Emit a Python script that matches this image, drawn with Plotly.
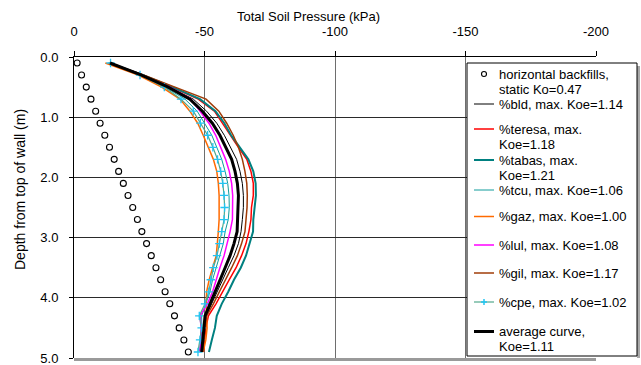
import plotly.graph_objects as go

# Depth below top of wall (m)
depth = [0.1, 0.3, 0.5, 0.7, 0.9, 1.1, 1.3, 1.5, 1.7, 1.9, 2.1, 2.3, 2.5,
         2.7, 2.9, 3.1, 3.3, 3.5, 3.7, 3.9, 4.1, 4.3, 4.5, 4.7, 4.9]

# Total soil pressure profiles (kPa, negative = toward the wall)
static_ko = [-1.2, -2.9, -4.7, -6.5, -8.3, -10.0, -11.8, -13.6, -15.4, -17.1, -18.9, -20.7, -22.5,
             -24.3, -26.0, -27.8, -29.6, -31.4, -33.2, -34.9, -36.7, -38.5, -40.3, -42.1, -43.8]
bld = [-13.6, -26.2, -36.5, -45.7, -50.8, -54.7, -57.6, -59.8, -62.3, -63.6, -64.5, -64.9, -64.9,
       -64.5, -64.0, -63.0, -61.3, -59.1, -57.0, -54.9, -52.8, -50.6, -50.0, -49.6, -49.0]
teresa = [-13.5, -26.3, -37.4, -47.6, -53.8, -56.8, -59.8, -63.0, -66.2, -67.8, -68.7, -68.7, -68.0,
          -67.8, -67.0, -65.9, -64.2, -62.1, -59.5, -57.0, -54.4, -51.5, -50.5, -50.0, -49.6]
tabas = [-13.5, -26.5, -37.8, -48.3, -54.2, -57.6, -60.2, -63.6, -66.8, -68.7, -69.6, -69.7, -69.3,
         -68.7, -68.6, -67.4, -65.9, -63.9, -61.3, -59.1, -56.6, -54.7, -54.0, -52.8, -51.7]
tcu = [-13.5, -25.8, -34.9, -42.5, -47.2, -49.9, -52.8, -54.7, -56.6, -57.9, -58.9, -59.4, -59.5,
       -59.1, -57.9, -57.2, -55.9, -54.4, -53.1, -52.1, -50.6, -48.9, -49.0, -48.7, -48.0]
gaz = [-12.0, -24.6, -33.6, -40.6, -44.4, -47.4, -49.5, -51.5, -53.4, -54.7, -55.3, -55.6, -55.7,
       -55.6, -55.3, -55.0, -54.5, -53.1, -51.8, -50.8, -50.6, -50.8, -51.0, -50.5, -49.5]
lul = [-13.8, -26.0, -36.8, -44.8, -48.3, -51.7, -54.3, -56.3, -58.1, -59.5, -60.4, -60.8, -60.8,
       -60.7, -59.8, -58.5, -57.5, -55.9, -54.4, -53.1, -51.1, -48.3, -48.7, -48.5, -48.3]
gil = [-13.2, -26.6, -38.7, -50.6, -55.5, -58.5, -61.0, -63.0, -64.5, -65.5, -66.2, -66.4, -66.3,
       -65.8, -65.5, -64.2, -62.6, -60.4, -57.9, -55.7, -53.4, -50.8, -50.2, -49.8, -49.3]
cpe = [-14.0, -25.3, -34.6, -41.0, -45.7, -48.4, -51.2, -53.2, -55.0, -56.2, -57.0, -57.5, -57.7,
       -57.5, -56.6, -55.7, -54.8, -53.4, -52.4, -51.6, -50.2, -48.0, -48.9, -48.3, -47.5]
average = [-13.8, -25.9, -36.1, -44.4, -49.2, -53.0, -55.9, -58.1, -60.4, -61.7, -62.6, -63.0, -62.9,
           -62.7, -62.5, -61.3, -59.8, -57.9, -55.9, -54.0, -52.1, -50.2, -49.8, -49.3, -48.9]

x_ticks = [0, -50, -100, -150, -200]
y_ticks = [0, 1, 2, 3, 4, 5]

legend_labels = [
    ["horizontal backfills,", "static Ko=0.47"],
    ["%bld, max. Koe=1.14"],
    ["%teresa, max.", "Koe=1.18"],
    ["%tabas, max.", "Koe=1.21"],
    ["%tcu, max. Koe=1.06"],
    ["%gaz, max. Koe=1.00"],
    ["%lul, max. Koe=1.08"],
    ["%gil, max. Koe=1.17"],
    ["%cpe, max. Koe=1.02"],
    ["average curve,", "Koe=1.11"],
]

FONT = "Liberation Sans, Arial, sans-serif"
W, H = 641, 365
L, R, T, B = 74, 45, 57, 7
PW, PH = W - L - R, H - T - B


def px(x):
    return (x - L) / PW


def py(y):
    return (H - B - y) / PH


line_series = [
    ("bld", bld, dict(color="#000000", width=1)),
    ("teresa", teresa, dict(color="#ff0000", width=1.5)),
    ("tabas", tabas, dict(color="#008080", width=2)),
    ("tcu", tcu, dict(color="#119c9c", width=1)),
    ("gaz", gaz, dict(color="#ff6a00", width=1.5)),
    ("lul", lul, dict(color="#ff00ff", width=1.5)),
    ("gil", gil, dict(color="#a03c08", width=1.5)),
    ("cpe", cpe, dict(color="#52a88c", width=1.2)),
    ("average", average, dict(color="#000000", width=3)),
]
cpe_marker_color = "#22c4f2"

fig = go.Figure()

fig.add_trace(go.Scatter(
    x=static_ko, y=depth, mode="markers", showlegend=False,
    marker=dict(symbol="circle-open", size=6, color="black", line=dict(width=1.1)),
))

for name, values, style in line_series:
    if name == "cpe":
        fig.add_trace(go.Scatter(
            x=values, y=depth, mode="lines+markers", showlegend=False, line=style,
            marker=dict(symbol="cross-thin", size=6, color=cpe_marker_color,
                        line=dict(color=cpe_marker_color, width=1.3)),
        ))
    else:
        fig.add_trace(go.Scatter(x=values, y=depth, mode="lines", showlegend=False,
                                 line=style))

shapes = []
annotations = []

# bottom frame line of the plot area
shapes.append(dict(type="line", xref="paper", yref="paper", x0=0, x1=1, y0=py(359.5), y1=py(359.5),
                   line=dict(color="#9a9a9a", width=3), layer="above"))

# legend box with a narrow shadow on its right edge
shapes.append(dict(type="rect", xref="paper", yref="paper",
                   x0=px(637), x1=px(640), y0=py(358), y1=py(66),
                   fillcolor="#a8a8a8", line=dict(width=0), layer="above"))
shapes.append(dict(type="rect", xref="paper", yref="paper",
                   x0=px(467), x1=px(637), y0=py(356), y1=py(63),
                   fillcolor="white", line=dict(color="black", width=1), layer="above"))

row_y = [74, 104, 129, 160, 190, 216.5, 245, 273, 302, 331.5]
sym_x0, sym_x1, text_x = 474, 494, 498

for i, (lines, y) in enumerate(zip(legend_labels, row_y)):
    for j, txt in enumerate(lines):
        annotations.append(dict(
            x=px(text_x), y=py(y + 15 * j), xref="paper", yref="paper", text=txt,
            showarrow=False, xanchor="left", yanchor="middle", borderpad=0,
            font=dict(family=FONT, size=13, color="black"),
        ))
    if i == 0:
        shapes.append(dict(type="circle", xref="paper", yref="paper",
                           x0=px(481.5), x1=px(486.5), y0=py(y + 2.5), y1=py(y - 2.5),
                           line=dict(color="black", width=1.1), layer="above"))
    else:
        _, _, style = line_series[i - 1]
        shapes.append(dict(type="line", xref="paper", yref="paper",
                           x0=px(sym_x0), x1=px(sym_x1), y0=py(y), y1=py(y),
                           line=dict(color=style["color"], width=style["width"]),
                           layer="above"))
        if line_series[i - 1][0] == "cpe":
            cx = (sym_x0 + sym_x1) / 2
            shapes.append(dict(type="line", xref="paper", yref="paper",
                               x0=px(cx - 3), x1=px(cx + 3), y0=py(y), y1=py(y),
                               line=dict(color=cpe_marker_color, width=1.5), layer="above"))
            shapes.append(dict(type="line", xref="paper", yref="paper",
                               x0=px(cx), x1=px(cx), y0=py(y - 3), y1=py(y + 3),
                               line=dict(color=cpe_marker_color, width=1.5), layer="above"))

# axis titles
annotations.append(dict(x=px(308), y=py(16), xref="paper", yref="paper",
                        text="Total Soil Pressure (kPa)", showarrow=False,
                        xanchor="center", yanchor="middle",
                        font=dict(family=FONT, size=13, color="black")))
annotations.append(dict(x=px(20), y=py(190), xref="paper", yref="paper",
                        text="Depth from top of wall (m)", showarrow=False, textangle=-90,
                        xanchor="center", yanchor="middle",
                        font=dict(family=FONT, size=14, color="black")))

fig.update_layout(
    width=W, height=H,
    margin=dict(l=L, r=R, t=T, b=B, pad=0, autoexpand=False),
    paper_bgcolor="white", plot_bgcolor="white",
    font=dict(family=FONT, size=13, color="black"),
    shapes=shapes, annotations=annotations,
    xaxis=dict(
        range=[0, -200], side="top", tickvals=x_ticks, ticktext=[str(v) for v in x_ticks],
        ticks="outside", ticklen=5, tickcolor="black", showline=True, linecolor="black",
        linewidth=1, showgrid=True, gridcolor="#6e6e6e", gridwidth=1, zeroline=False,
        tickfont=dict(family=FONT, size=13, color="black"), ticklabelstandoff=10,
        ticklabeloverflow="allow", automargin=False,
    ),
    yaxis=dict(
        range=[5, 0], tickvals=y_ticks, tickformat=".1f",
        ticks="outside", ticklen=4, tickcolor="black", showline=True, linecolor="black",
        linewidth=1, showgrid=True, gridcolor="#2a2a2a", gridwidth=1, zeroline=False,
        tickfont=dict(family=FONT, size=13, color="black"), ticklabelstandoff=8,
        ticklabeloverflow="allow", automargin=False,
    ),
)

fig.write_html("out.html")
